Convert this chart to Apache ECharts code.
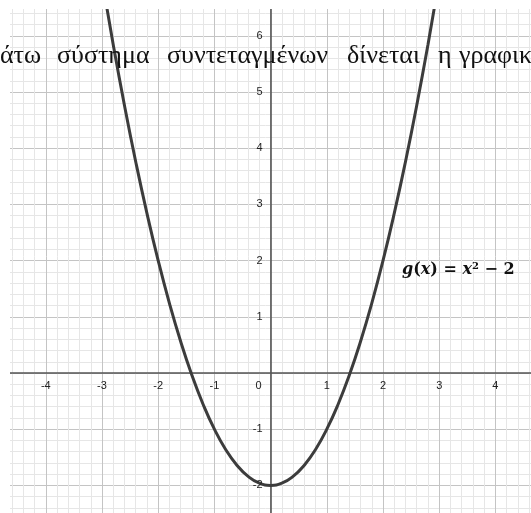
<!DOCTYPE html>
<html>
<head>
<meta charset="utf-8">
<script src="https://cdn.jsdelivr.net/npm/echarts@6/dist/echarts.min.js"></script>
<style>html,body{margin:0;padding:0;background:#fff;}#c{width:531px;height:513px;}</style>
</head>
<body>
<div id="c"></div>
<script>
// Curve points: g(x) = x^2 - 2
const curveX = [-3, -2.8, -2.6, -2.4, -2.2, -2, -1.8, -1.6, -1.4, -1.2, -1, -0.8, -0.6, -0.4, -0.2, 0, 0.2, 0.4, 0.6, 0.8, 1, 1.2, 1.4, 1.6, 1.8, 2, 2.2, 2.4, 2.6, 2.8, 3];
const curveY = [7, 5.84, 4.76, 3.76, 2.84, 2, 1.24, 0.56, -0.04, -0.56, -1, -1.36, -1.64, -1.84, -1.96, -2, -1.96, -1.84, -1.64, -1.36, -1, -0.56, -0.04, 0.56, 1.24, 2, 2.84, 3.76, 4.76, 5.84, 7];
const xTickLabels = [-4, -3, -2, -1, 0, 1, 2, 3, 4];
const yTickLabels = [-2, -1, 1, 2, 3, 4, 5, 6];
const headerWords = ['άτω', 'σύστημα', 'συντεταγμένων', 'δίνεται', 'η', 'γραφική'];
const headerX = [0, 57, 167, 347, 438, 459];

const chart = echarts.init(document.getElementById('c'));
const axisCommon = {
  type: 'value',
  interval: 1,
  axisLine: { show: true, onZero: true, lineStyle: { color: '#555', width: 1.6 } },
  axisTick: { show: false },
  axisLabel: { show: false },
  splitLine: { show: true, lineStyle: { color: '#c4c4c4', width: 1 } },
  minorTick: { show: false, splitNumber: 5 },
  minorSplitLine: { show: true, lineStyle: { color: '#e6e6e6', width: 1 } },
  z: 1
};
const labelFont = { fontSize: 11, fontFamily: '"Liberation Sans", Arial, sans-serif', fill: '#222' };

chart.setOption({
  animation: false,
  backgroundColor: '#fff',
  grid: { left: -10.4, right: -20.6, top: -20.4, bottom: -28.6, containLabel: false, outerBoundsMode: 'none' },
  xAxis: Object.assign({}, axisCommon, { min: -5, max: 5 }),
  yAxis: Object.assign({}, axisCommon, { min: -3, max: 7 }),
  series: [{
    type: 'line',
    data: curveX.map((x, i) => [x, curveY[i]]),
    smooth: true,
    showSymbol: false,
    clip: true,
    lineStyle: { color: '#3c3c3c', width: 3 },
    z: 5
  }]
});

// tick labels placed through the chart's own scales
const labelEls = [];
xTickLabels.forEach(function (v) {
  const p = chart.convertToPixel({ xAxisIndex: 0, yAxisIndex: 0 }, [v, 0]);
  labelEls.push({
    type: 'text', x: v === 0 ? p[0] - 12 : p[0], y: p[1] + 7, z: 50,
    style: Object.assign({ text: String(v), textAlign: 'center', textVerticalAlign: 'top' }, labelFont)
  });
});
yTickLabels.forEach(function (v) {
  const p = chart.convertToPixel({ xAxisIndex: 0, yAxisIndex: 0 }, [0, v]);
  labelEls.push({
    type: 'text', x: p[0] - 8, y: p[1], z: 50,
    style: Object.assign({ text: String(v), textAlign: 'right', textVerticalAlign: 'middle' }, labelFont)
  });
});

chart.setOption({
  graphic: [
    { type: 'rect', shape: { x: 0, y: 0, width: 10, height: 513 }, style: { fill: '#fff' }, z: 100 },
    { type: 'rect', shape: { x: 0, y: 0, width: 531, height: 9 }, style: { fill: '#fff' }, z: 100 }
  ].concat(labelEls).concat(headerWords.map((w, i) => ({
    type: 'text', x: headerX[i], y: 56, z: 101,
    style: { text: w, fontSize: 26, fontFamily: '"Liberation Serif", "DejaVu Serif", serif', fill: '#111', textVerticalAlign: 'middle' }
  }))).concat([{
    type: 'text', x: 402, y: 270, z: 101,
    style: {
      text: '{i|g}{n|(}{i|x}{n|) = }{i|x}{s|2}{n| − 2}',
      textVerticalAlign: 'middle',
      rich: {
        i: { fontStyle: 'italic', fontWeight: 'bold', fontSize: 16, fontFamily: '"DejaVu Serif", serif', fill: '#111' },
        n: { fontWeight: 'bold', fontSize: 16, fontFamily: '"DejaVu Serif", serif', fill: '#111' },
        s: { fontWeight: 'bold', fontSize: 10, fontFamily: '"DejaVu Serif", serif', fill: '#111', verticalAlign: 'top', padding: [0, 0, 8, 0] }
      }
    }
  }])
});
</script>
</body>
</html>
